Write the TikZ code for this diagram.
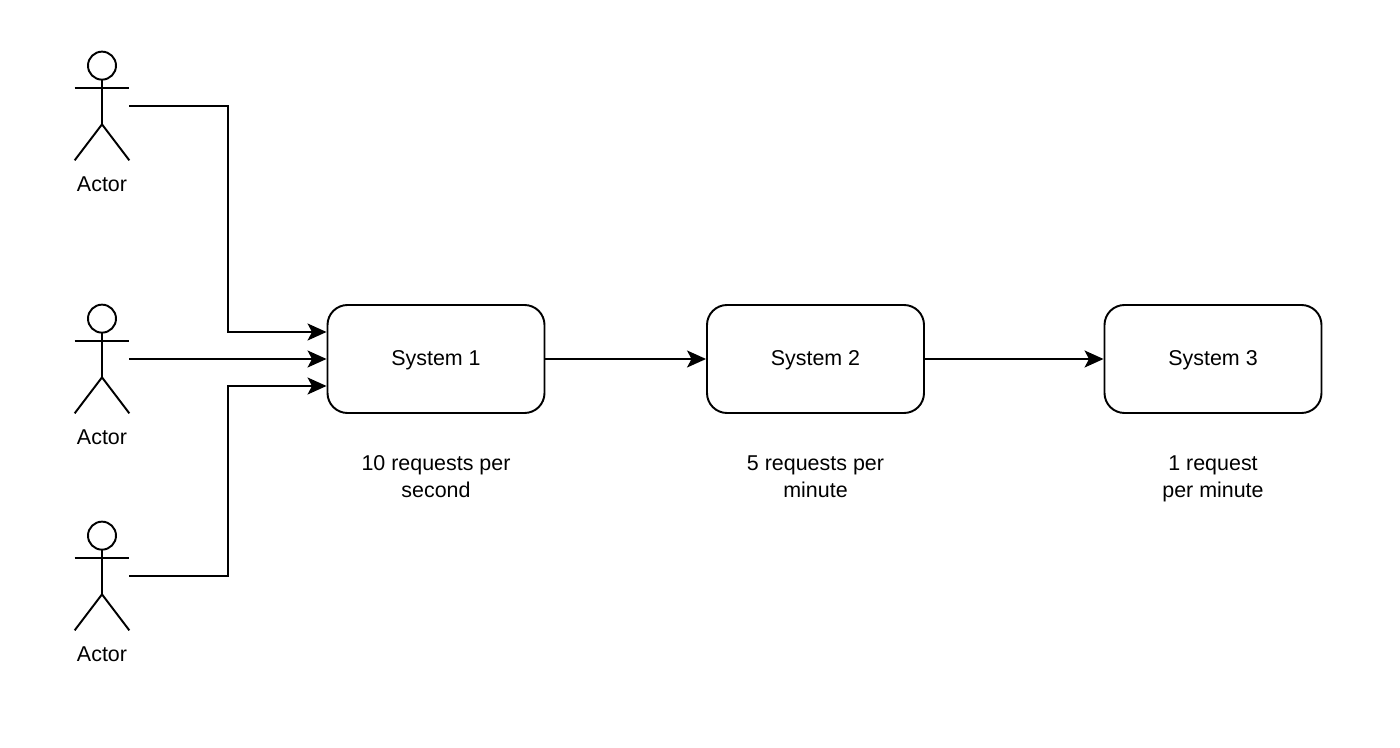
\documentclass[tikz,border=0pt]{standalone}
\usepackage{fontspec}
\setmainfont{Liberation Sans}
\usetikzlibrary{positioning,arrows.meta}

\tikzset{
    systembox/.style={draw,line width=1.1pt,rounded corners=0.4cm,minimum width=4.34cm,minimum height=2.16cm,inner sep=0pt,text height=0.38cm,text depth=0.12cm,font=\fontsize{12.2}{15}\selectfont},
    actorbox/.style={minimum width=1.08cm,minimum height=2.16cm,inner sep=0pt},
    actorlabel/.style={inner sep=0pt,font=\fontsize{12.2}{15}\selectfont},
    notelabel/.style={inner sep=0pt,align=center,font=\fontsize{12.2}{15.5}\selectfont},
    stickline/.style={line width=1.1pt},
    link/.style={line width=1.1pt,-{Stealth[length=0.38cm,width=0.34cm,inset=0.09cm]}}
}

% stick figure drawn inside an actorbox node
\newcommand{\stickman}[1]{
    \draw[stickline] ([yshift=-0.28cm]#1.north) circle (0.28);
    \draw[stickline] ([yshift=-0.56cm]#1.north) -- ([yshift=0.72cm]#1.south);
    \draw[stickline] ([yshift=-0.72cm]#1.north west) -- ([yshift=-0.72cm]#1.north east);
    \draw[stickline] (#1.south west) -- ([yshift=0.72cm]#1.south) -- (#1.south east);
}

\begin{document}
\begin{tikzpicture}
    \useasboundingbox (0,0) rectangle (28,-14.96);

    % Actors
    \node[actorbox] (actorA) at (2.04,-2.12) {};
    \node[actorbox] (actorB) at (2.04,-7.18) {};
    \node[actorbox] (actorC) at (2.04,-11.52) {};
    \stickman{actorA}
    \stickman{actorB}
    \stickman{actorC}
    \node[actorlabel,below=0.32cm of actorA] (labelA) {Actor};
    \node[actorlabel,below=0.32cm of actorB] (labelB) {Actor};
    \node[actorlabel,below=0.32cm of actorC] (labelC) {Actor};

    % Systems
    \node[systembox] (sysA) at (8.72,-7.18) {System 1};
    \node[systembox] (sysB) at (16.31,-7.18) {System 2};
    \node[systembox] (sysC) at (24.26,-7.18) {System 3};

    \node[notelabel,below=0.82cm of sysA] (noteA) {10 requests per\\second};
    \node[notelabel,below=0.82cm of sysB] (noteB) {5 requests per\\minute};
    \node[notelabel,below=0.82cm of sysC] (noteC) {1 request\\per minute};

    % Connections
    \draw[link] (actorA.east) -- ++(1.98,0) |- ([yshift=0.54cm]sysA.west);
    \draw[link] (actorB.east) -- (sysA.west);
    \draw[link] (actorC.east) -- ++(1.98,0) |- ([yshift=-0.54cm]sysA.west);
    \draw[link] (sysA.east) -- (sysB.west);
    \draw[link] (sysB.east) -- (sysC.west);
\end{tikzpicture}
\end{document}
